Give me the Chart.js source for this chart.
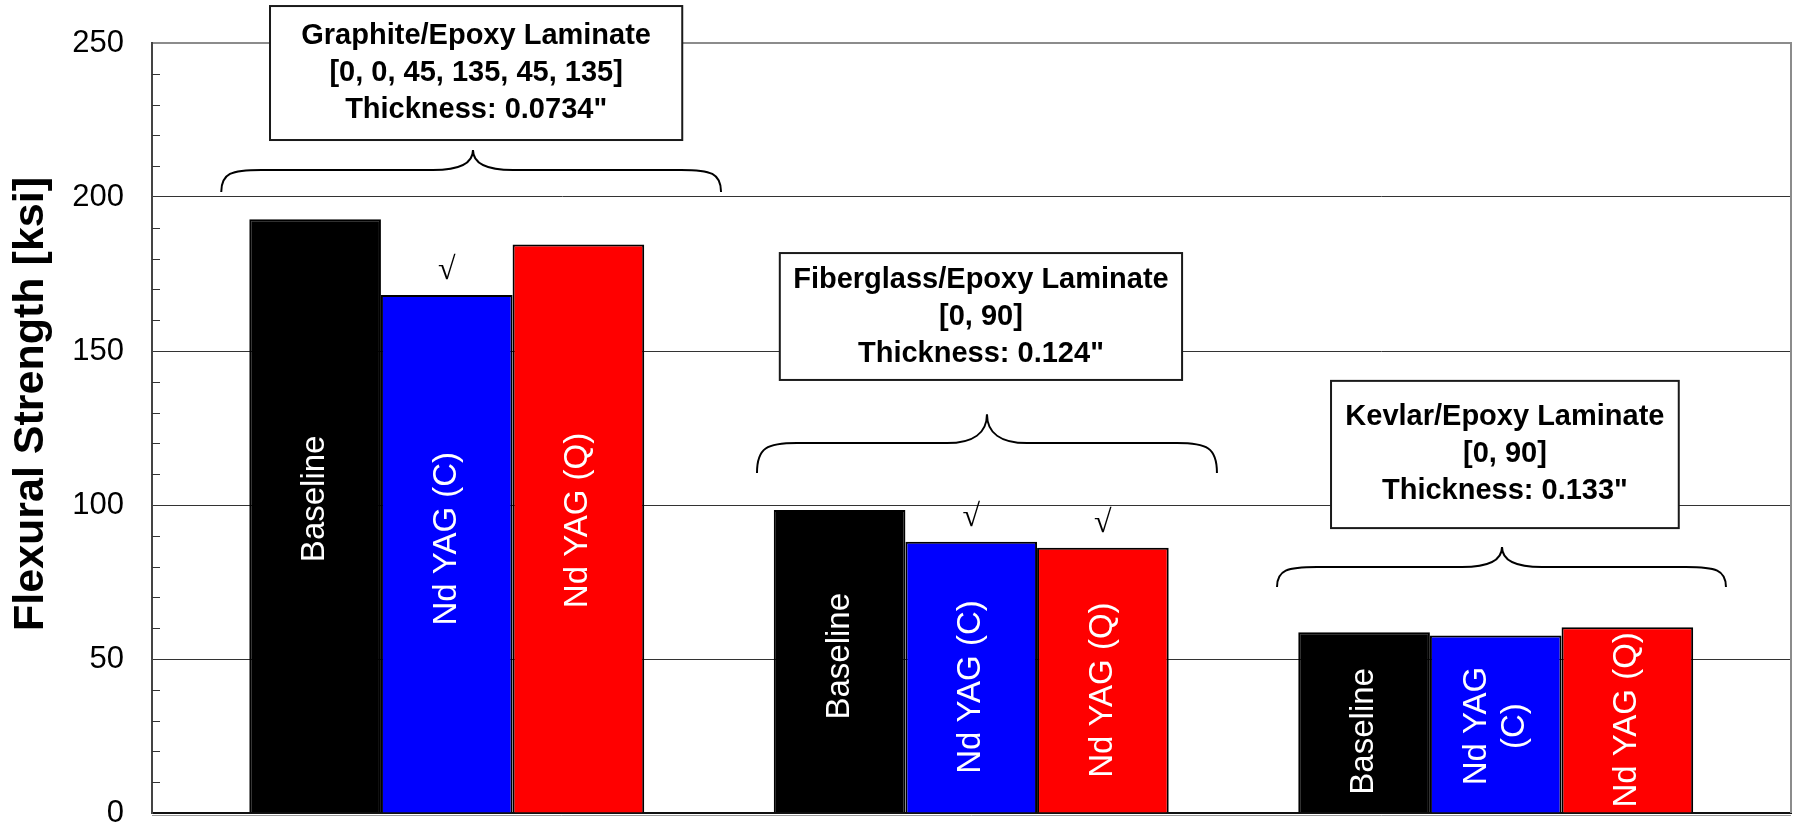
<!DOCTYPE html>
<html><head><meta charset="utf-8">
<script src="https://cdn.jsdelivr.net/npm/chart.js@4/dist/chart.umd.min.js"></script>
<style>html,body{margin:0;padding:0;background:#fff;overflow:hidden}</style>
</head><body>
<canvas id="c" width="1802" height="826"></canvas>
<script>
// ---- data ----
const categories = ['Graphite/Epoxy', 'Fiberglass/Epoxy', 'Kevlar/Epoxy'];
const seriesNames = ['Baseline', 'Nd YAG (C)', 'Nd YAG (Q)'];
const baseline = [192.8, 98.4, 58.7];
const ndyagC = [168.2, 88.1, 57.6];
const ndyagQ = [184.6, 86.1, 60.3];
const checkC = [true, true, false];
const checkQ = [false, true, false];
const yTicks = [0, 50, 100, 150, 200, 250];
const yTitle = 'Flexural Strength [ksi]';
const boxTexts = [
  ['Graphite/Epoxy Laminate', '[0, 0, 45, 135, 45, 135]', 'Thickness: 0.0734"'],
  ['Fiberglass/Epoxy Laminate', '[0, 90]', 'Thickness: 0.124"'],
  ['Kevlar/Epoxy Laminate', '[0, 90]', 'Thickness: 0.133"']
];
const barLabels = [
  ['Baseline', 'Baseline', 'Baseline'],
  ['Nd YAG (C)', 'Nd YAG (C)', 'Nd YAG\n(C)'],
  ['Nd YAG (Q)', 'Nd YAG (Q)', 'Nd YAG (Q)']
];

// ---- label / annotation layout ----
const labelShift = [[-17, -5, 9], [-15, 10, 2], [-8, 10, 0]]; // px shift of in-bar labels
const boxes = [
  {x0: -0.337, x1: 0.449, yTop: 262.0, yBot: 218.5},
  {x0: 0.635, x1: 1.402, yTop: 181.8, yBot: 140.6},
  {x0: 1.686, x1: 2.349, yTop: 140.3, yBot: 92.5}
];
const braces = [
  {x0: -0.430, x1: 0.523, xc: 0.050, yTip: 215.3, yFlat: 208.8, yEnd: 201.6},
  {x0: 0.5915, x1: 1.4685, xc: 1.030, yTip: 129.5, yFlat: 120.1, yEnd: 110.4},
  {x0: 1.583, x1: 2.439, xc: 2.012, yTip: 86.4, yFlat: 79.9, yEnd: 73.4}
];

Chart.defaults.font.family = '"Liberation Sans", Arial, sans-serif';

const toXY = arr => arr.map((v, i) => ({x: i, y: v}));

const frame = {
  id: 'frame',
  beforeDatasetsDraw(chart) {
    const {ctx, chartArea: a} = chart;
    const ys = chart.scales.y;
    ctx.save();
    ctx.strokeStyle = '#333';
    ctx.lineWidth = 1;
    ys.ticks.forEach(t => {
      if (yTicks.includes(t.value)) return;
      const py = Math.round(ys.getPixelForValue(t.value)) + 0.5;
      ctx.beginPath();
      ctx.moveTo(a.left, py); ctx.lineTo(a.left + 8, py);
      ctx.stroke();
    });
    ctx.restore();
  },
  afterDatasetsDraw(chart) {
    const {ctx, chartArea: a} = chart;
    ctx.save();
    ctx.strokeStyle = '#8c8c8c';
    ctx.lineWidth = 2;
    ctx.beginPath();
    ctx.moveTo(a.right, a.top - 1); ctx.lineTo(a.right, a.bottom);
    ctx.stroke();
    ctx.strokeStyle = '#9a9a9a';
    ctx.lineWidth = 1;
    ctx.beginPath();
    ctx.moveTo(a.left, a.bottom + 2.5); ctx.lineTo(a.right, a.bottom + 2.5);
    ctx.stroke();
    ctx.fillStyle = '#000';
    ctx.font = 'bold 43px "Liberation Sans", Arial, sans-serif';
    ctx.textAlign = 'center';
    ctx.textBaseline = 'middle';
    ctx.translate(31, (a.top + a.bottom) / 2 - 24);
    ctx.rotate(-Math.PI / 2);
    ctx.fillText(yTitle, 0, 0);
    ctx.restore();
  }
};

const barText = {
  id: 'barText',
  afterDatasetsDraw(chart) {
    const ctx = chart.ctx;
    ctx.save();
    chart.data.datasets.forEach((ds, di) => {
      const meta = chart.getDatasetMeta(di);
      meta.data.forEach((bar, i) => {
        const lines = barLabels[di][i].split('\n');
        const cy = (bar.y + bar.base) / 2 + labelShift[di][i];
        ctx.save();
        ctx.translate(bar.x, cy);
        ctx.rotate(-Math.PI / 2);
        ctx.fillStyle = '#ffffff';
        ctx.font = '33px "Liberation Sans", Arial, sans-serif';
        ctx.textAlign = 'center';
        ctx.textBaseline = 'middle';
        const lh = 38;
        lines.forEach((t, k) => ctx.fillText(t, 0, (k - (lines.length - 1) / 2) * lh));
        ctx.restore();
      });
    });
    ctx.fillStyle = '#000';
    ctx.font = '32px "Liberation Serif", "Times New Roman", serif';
    ctx.textAlign = 'center';
    ctx.textBaseline = 'middle';
    [[1, checkC], [2, checkQ]].forEach(([di, flags]) => {
      const meta = chart.getDatasetMeta(di);
      flags.forEach((f, i) => {
        if (!f) return;
        const bar = meta.data[i];
        ctx.fillText('\u221A', bar.x, bar.y - 24);
      });
    });
    ctx.restore();
  }
};

function drawBrace(ctx, x0, x1, xc, yTip, yFlat, yEnd) {
  const r = 40;
  ctx.beginPath();
  ctx.moveTo(x0, yEnd);
  ctx.bezierCurveTo(x0, yFlat + (yEnd - yFlat) * 0.15, x0 + r * 0.25, yFlat, x0 + r, yFlat);
  ctx.lineTo(xc - r, yFlat);
  ctx.bezierCurveTo(xc - r * 0.35, yFlat, xc, yFlat - (yFlat - yTip) * 0.35, xc, yTip);
  ctx.bezierCurveTo(xc, yFlat - (yFlat - yTip) * 0.35, xc + r * 0.35, yFlat, xc + r, yFlat);
  ctx.lineTo(x1 - r, yFlat);
  ctx.bezierCurveTo(x1 - r * 0.25, yFlat, x1, yFlat + (yEnd - yFlat) * 0.15, x1, yEnd);
  ctx.stroke();
}

const notes = {
  id: 'notes',
  afterDraw(chart) {
    const {ctx} = chart;
    const xs = chart.scales.x, ys = chart.scales.y;
    ctx.save();
    boxes.forEach((b, k) => {
      const l = xs.getPixelForValue(b.x0), r = xs.getPixelForValue(b.x1);
      const t = ys.getPixelForValue(b.yTop), bt = ys.getPixelForValue(b.yBot);
      ctx.fillStyle = '#fff';
      ctx.fillRect(l, t, r - l, bt - t);
      ctx.strokeStyle = '#1a1a1a';
      ctx.lineWidth = 2;
      ctx.strokeRect(l, t, r - l, bt - t);
      ctx.fillStyle = '#000';
      ctx.font = 'bold 29px "Liberation Sans", Arial, sans-serif';
      ctx.textAlign = 'center';
      ctx.textBaseline = 'middle';
      const lines = boxTexts[k];
      const cx = (l + r) / 2, cy = (t + bt) / 2, lh = 37;
      lines.forEach((s, i) => ctx.fillText(s, cx, cy + (i - 1) * lh));
    });
    ctx.strokeStyle = '#000';
    ctx.lineWidth = 2;
    braces.forEach(b => {
      drawBrace(ctx, xs.getPixelForValue(b.x0), xs.getPixelForValue(b.x1), xs.getPixelForValue(b.xc),
        ys.getPixelForValue(b.yTip), ys.getPixelForValue(b.yFlat), ys.getPixelForValue(b.yEnd));
    });
    ctx.restore();
  }
};

new Chart(document.getElementById('c'), {
  type: 'bar',
  data: {
    datasets: [
      {label: seriesNames[0], data: toXY(baseline), backgroundColor: '#000000', borderColor: '#000000', borderWidth: 2},
      {label: seriesNames[1], data: toXY(ndyagC), backgroundColor: '#0000ff', borderColor: '#000000', borderWidth: 2},
      {label: seriesNames[2], data: toXY(ndyagQ), backgroundColor: '#ff0000', borderColor: '#000000', borderWidth: 2}
    ]
  },
  options: {
    responsive: false,
    animation: false,
    devicePixelRatio: 1,
    layout: {padding: {left: 0, right: 11, top: 43, bottom: 13}},
    categoryPercentage: 0.753,
    barPercentage: 1.0,
    plugins: {legend: {display: false}, tooltip: {enabled: false}},
    scales: {
      x: {
        type: 'linear',
        min: -0.562, max: 2.563,
        offset: false,
        afterBuildTicks: s => { s.ticks = categories.map((c, i) => ({value: i})); },
        afterFit: s => { s.height = 0; },
        ticks: {display: false},
        grid: {display: false, drawTicks: false},
        border: {display: true, color: '#111', width: 2}
      },
      y: {
        min: 0, max: 250,
        afterBuildTicks: s => {
          const t = [];
          for (let v = 0; v <= 250; v += 10) t.push({value: v});
          s.ticks = t;
        },
        afterFit: s => { s.width = 152; },
        ticks: {
          autoSkip: false,
          padding: 0,
          color: '#000',
          font: {size: 31, lineHeight: 0.8},
          callback: v => yTicks.includes(v) ? String(v) : ''
        },
        grid: {
          drawTicks: true,
          tickLength: 28,
          tickColor: 'rgba(0,0,0,0)',
          color: c => {
            const v = c.tick && c.tick.value;
            if (v === 250) return '#8c8c8c';
            if (v > 0 && v % 50 === 0) return '#333';
            return 'rgba(0,0,0,0)';
          },
          lineWidth: c => (c.tick && c.tick.value === 250) ? 2 : 1
        },
        border: {display: true, color: '#444', width: 2},
        title: {display: false}
      }
    }
  },
  plugins: [frame, barText, notes]
});
</script>
</body></html>
